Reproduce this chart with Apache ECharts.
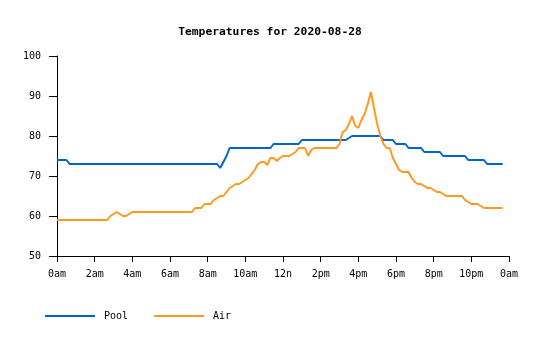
<!DOCTYPE html>
<html>
<head>
<meta charset="utf-8">
<script src="https://cdn.jsdelivr.net/npm/echarts@6/dist/echarts.min.js"></script>
<style>html,body{margin:0;padding:0;background:#fff}#c{width:540px;height:340px}</style>
</head>
<body>
<div id="c"></div>
<script>
// sample times (minutes after midnight), 10-minute readings
var times = [
  0,10,20,30,40,50, 60,70,80,90,100,110, 120,130,140,150,160,170,
  180,190,200,210,220,230, 240,250,260,270,280,290, 300,310,320,330,340,350,
  360,370,380,390,400,410, 420,430,440,450,460,470, 480,490,500,510,520,530,
  540,550,560,570,580,590, 600,610,620,630,640,650, 660,670,680,690,700,710,
  720,730,740,750,760,770, 780,790,800,810,820,830, 840,850,860,870,880,890,
  900,910,920,930,940,950, 960,970,980,990,1000,1010, 1020,1030,1040,1050,1060,1070,
  1080,1090,1100,1110,1120,1130, 1140,1150,1160,1170,1180,1190, 1200,1210,1220,1230,1240,1250,
  1260,1270,1280,1290,1300,1310, 1320,1330,1340,1350,1360,1370, 1380,1390,1400,1410,1420
];
var pool = [
  74,74,74,74,73,73,  73,73,73,73,73,73,  73,73,73,73,73,73,
  73,73,73,73,73,73,  73,73,73,73,73,73,  73,73,73,73,73,73,
  73,73,73,73,73,73,  73,73,73,73,73,73,  73,73,73,73,72,73.5,
  75,77,77,77,77,77,  77,77,77,77,77,77,  77,77,77,78,78,78,
  78,78,78,78,78,78,  79,79,79,79,79,79,  79,79,79,79,79,79,
  79,79,79,79.5,80,80, 80,80,80,80,80,80,  80,80,79,79,79,79,
  78,78,78,78,77,77,  77,77,77,76,76,76,  76,76,76,75,75,75,
  75,75,75,75,75,74,  74,74,74,74,74,73,  73,73,73,73,73
];
var air = [
  59,59,59,59,59,59,  59,59,59,59,59,59,  59,59,59,59,59,60,
  60.5,61,60.5,60,60,60.5,  61,61,61,61,61,61,  61,61,61,61,61,61,
  61,61,61,61,61,61,  61,61,62,62,62,63,  63,63,64,64.5,65,65,
  66,67,67.5,68,68,68.5,  69,69.5,70.5,71.5,73,73.5,  73.5,72.75,74.5,74.5,73.75,74.5,
  75,75,75,75.5,76,77,  77,77,75,76.5,77,77,  77,77,77,77,77,77,
  78,81,81.5,83,85,82.5,  82,84,85.5,88,91,87,  83,80,78,77,77,74.5,
  73,71.5,71,71,71,69.5,  68.5,68,68,67.5,67,67,  66.5,66,66,65.5,65,65,
  65,65,65,65,64,63.5,  63,63,63,62.5,62,62,  62,62,62,62,62
];
var xTickLabels = ["0am","2am","4am","6am","8am","10am","12n","2pm","4pm","6pm","8pm","10pm","0am"];
var titleText = "Temperatures for 2020-08-28";

var font = "DejaVu Sans Mono";
var chart = echarts.init(document.getElementById('c'), null, {renderer:'canvas'});
function pairs(v){ var out=[]; for (var i=0;i<v.length;i++) out.push([times[i], v[i]]); return out; }
chart.setOption({
  animation: false,
  backgroundColor: '#ffffff',
  title: {
    text: titleText, left: 'center', top: 22,
    textStyle: {fontFamily: font, fontSize: 11.3, fontWeight: 'bold', color: '#000'}
  },
  legend: {
    left: 45, top: 311, padding: 0, icon: 'rect', itemWidth: 50, itemHeight: 2, itemGap: 26,
    textStyle: {fontFamily: font, fontSize: 10, color: '#000', padding: [0,0,0,4]},
    data: ['Pool','Air']
  },
  grid: {left: 57, right: 31, top: 56, bottom: 84, containLabel: false},
  xAxis: {
    type: 'value', min: 0, max: 1440, interval: 120,
    axisLine: {lineStyle: {color: '#000', width: 1}},
    axisTick: {length: 6, lineStyle: {color: '#000'}},
    axisLabel: {margin: 13, fontFamily: font, fontSize: 10, color: '#000',
      formatter: function(v){ return xTickLabels[Math.round(v/120)]; }},
    splitLine: {show: false}
  },
  yAxis: {
    type: 'value', min: 50, max: 100, interval: 10,
    axisLine: {show: true, lineStyle: {color: '#000', width: 1}},
    axisTick: {show: true, length: 8, lineStyle: {color: '#000'}},
    axisLabel: {margin: 16, fontFamily: font, fontSize: 10, color: '#000'},
    splitLine: {show: false}
  },
  series: [
    {name: 'Pool', type: 'line', data: pairs(pool), symbol: 'none',
     lineStyle: {color: '#0066cc', width: 2}, itemStyle: {color: '#0066cc'}},
    {name: 'Air', type: 'line', data: pairs(air), symbol: 'none',
     lineStyle: {color: '#ff9922', width: 2}, itemStyle: {color: '#ff9922'}}
  ]
});
</script>
</body>
</html>
